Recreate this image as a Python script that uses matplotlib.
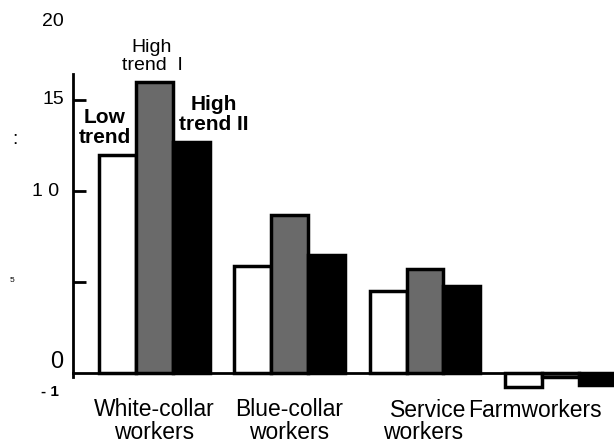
import numpy as np
import matplotlib.pyplot as plt

plt.rcParams['font.family'] = ['Liberation Sans', 'DejaVu Sans']

# data
groups = ['White-collar\nworkers', 'Blue-collar\nworkers', 'Service', 'Farmworkers']
low_trend = [12.0, 5.9, 4.5, -0.75]
high_trend_1 = [16.0, 8.7, 5.7, -0.2]
high_trend_2 = [12.7, 6.5, 4.8, -0.65]
yticks = [5, 10, 15]

x = np.arange(len(groups))
w = 0.273

fig = plt.figure(figsize=(6.14, 4.43), dpi=100)
ax = fig.add_axes([0, 0, 1, 1])
ax.set_xlim(-1.137, 3.395)
ax.set_ylim(-3.85, 20.49)

ax.bar(x - w, low_trend, w, color='white', edgecolor='black', lw=2.5)
ax.bar(x, high_trend_1, w, color='#6a6a6a', edgecolor='black', lw=2.5)
ax.bar(x + w, high_trend_2, w, color='black', edgecolor='black', lw=2.5)

# axes like the original drawing
for s in ['top', 'right']:
    ax.spines[s].set_visible(False)
ax.spines['left'].set_position(('data', -0.598))
ax.spines['left'].set_bounds(-0.2, 16.4)
ax.spines['bottom'].set_position(('data', 0))
ax.spines['bottom'].set_bounds(-0.598, 3.395)
ax.spines['left'].set_linewidth(2)
ax.spines['bottom'].set_linewidth(2)
ax.set_xticks([])
ax.set_yticks(yticks)
ax.set_yticklabels([])
ax.tick_params(axis='y', direction='in', length=9, width=2)

# y labels (scattered like the scan)
ax.text(-0.745, 19.3, '20', fontsize=14, ha='center', va='center')
ax.text(-0.745, 15.0, '15', fontsize=14, ha='center', va='center')
ax.text(-0.804, 9.95, '1 0', fontsize=14, ha='center', va='center')
ax.text(-1.048, 5.1, '5', fontsize=6, ha='center', va='center')
ax.text(-0.716, 0.6, '0', fontsize=17, ha='center', va='center')
ax.text(-0.77, -1.05, '- 1', fontsize=11, fontweight='bold', ha='center', va='center')
ax.text(-1.026, 12.8, ':', fontsize=14, ha='center', va='center')

# series labels
ax.text(-0.362, 13.5, 'Low\ntrend', fontsize=15, fontweight='bold',
        ha='center', va='center', linespacing=1.05)
ax.text(-0.015, 17.4, 'High\ntrend  I', fontsize=14,
        ha='center', va='center', linespacing=1.05)
ax.text(0.443, 14.2, 'High\ntrend II', fontsize=15, fontweight='bold',
        ha='center', va='center', linespacing=1.05)

# group labels
ax.text(x[0], -2.64, groups[0], fontsize=16.5, ha='center', va='center', linespacing=0.95)
ax.text(x[1], -2.64, groups[1], fontsize=16.5, ha='center', va='center', linespacing=0.95)
ax.text(1.742, -2.09, groups[2], fontsize=16.5, ha='left', va='center')
ax.text(1.69, -3.25, 'workers', fontsize=16.5, ha='left', va='center')
ax.text(2.317, -2.09, groups[3], fontsize=16.5, ha='left', va='center')

fig.savefig('out.png', dpi=100)
